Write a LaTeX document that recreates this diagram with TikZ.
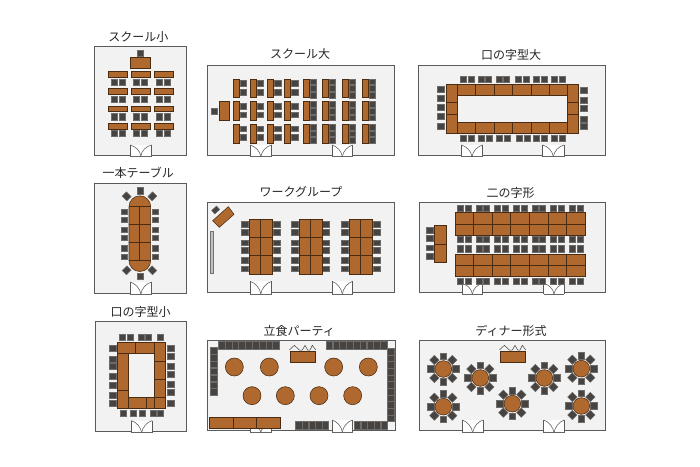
\documentclass[tikz,border=0pt]{standalone}
\usepackage{fontspec}
\setmainfont{Noto Sans CJK JP}
\definecolor{roomfill}{HTML}{F2F2F2}
\definecolor{roomline}{HTML}{5A5A5A}
\definecolor{wood}{HTML}{AF692F}
\definecolor{woodline}{HTML}{4A2C12}
\definecolor{seat}{HTML}{474341}
\definecolor{seatline}{HTML}{6E6C6A}
\tikzset{
  zoomat/.style 2 args={shift={(#1,#2)},x=0.33333pt,y=-0.33333pt},
  room/.style={fill=roomfill,draw=roomline,line width=0.7pt},
  tabletop/.style={fill=wood,draw=woodline,line width=0.55pt},
  seatbox/.style={fill=seat,draw=seatline,line width=0.5pt},
  splitline/.style={draw=woodline,line width=0.55pt},
  doorbox/.style={draw=roomline,line width=0.55pt},
  doorsill/.style={draw=black!60,line width=1pt},
  title/.style={font=\fontsize{12}{12}\selectfont,text=black!85,inner sep=0pt},
  board/.style={fill=black!25,draw=black!55,line width=0.4pt},
  crown/.style={draw=black!75,line width=0.5pt}
}
\newcommand{\doorat}[4]{% x1 x2 ytop ybot
  \pgfmathsetmacro{\dm}{(#1+#2)/2}
  \fill[white] (#1,#3) rectangle (#2,#4);
  \draw[doorbox] (#1,#3) -- (#1,#4);
  \draw[doorbox] (#2,#3) -- (#2,#4);
  \draw[doorsill] (#1,#4) -- (#2,#4);
  \draw[doorbox] (#1,#3) .. controls (\dm-16,#3+4) and (\dm-2,#4-16) .. (\dm,#4);
  \draw[doorbox] (#2,#3) .. controls (\dm+16,#3+4) and (\dm+2,#4-16) .. (\dm,#4);
}
\newcommand{\crownrow}{%
  \draw[crown] (268,90) -- (283,76) -- (298,90) -- (307,90) -- (315,76) -- (323,90) -- (330,90) -- (337,76) -- (347,90);
  \draw[tabletop] (271,95) rectangle (345,127);
}
\newcommand{\roundset}[2]{%
  \foreach \a in {0,45,...,315}
    {\draw[seatbox,shift={(#1,#2)},rotate=\a] (28,-10) rectangle (48,10);}
  \draw[tabletop] (#1,#2) circle (25);
}
\begin{document}
\begin{tikzpicture}[x=1pt,y=-1pt]
\useasboundingbox (0,0) rectangle (700,466);
\fill[white] (0,0) rectangle (700,466);

% ---- panel 1
\begin{scope}[zoomat={90}{20}]
\node[title] (t1) at (145,50) {スクール小};
\draw[room] (14,78) rectangle (288,405);
\doorat{120}{185}{375}{408}
\draw[seatbox] (142,90) rectangle (160,110);
\draw[tabletop] (122,113) rectangle (180,146);
\foreach \r/\c in {155/177,206/228,258/280,310/330}{
  \foreach \x in {55,123,192} \draw[tabletop] (\x,\r) rectangle ++(57,17);
  \foreach \x in {64,87,131,155,200,224} \draw[seatbox] (\x,\c) rectangle ++(18,20);
}
\end{scope}

% ---- panel 2
\begin{scope}[zoomat={200}{40}]
\node[title] (t2) at (300,42) {スクール大};
\draw[room] (22,77) rectangle (583,346);
\doorat{150}{215}{315}{350}
\doorat{396}{458}{315}{350}
\draw[seatbox] (33,205) rectangle (53,222);
\draw[tabletop] (58,183) rectangle (88,242);
\foreach \x in {100,151,203,254}{
  \foreach \y in {117,185,253} \draw[tabletop] (\x,\y) rectangle ++(17,56);
  \foreach \y in {122,148,190,216,258,284} \draw[seatbox] (\x+20,\y) rectangle ++(20,17);
}
\foreach \x in {310,367,427,487}{
  \foreach \y in {117,185,253}{
    \draw[tabletop] (\x,\y) rectangle ++(17,56);
    \foreach \d in {0,20,40} \draw[seatbox] (\x+20,\y+\d) rectangle ++(20,17);
  }
}
\end{scope}

% ---- panel 3
\begin{scope}[zoomat={410}{40}]
\node[title] (t3) at (303,44) {口の字型大};
\draw[room] (26,77) rectangle (586,347);
\doorat{154}{218}{315}{350}
\doorat{398}{462}{315}{350}
\foreach \x in {150,174,204,227,258,281,317,341,370,394,423,447} \draw[seatbox] (\x,108) rectangle ++(18,20);
\foreach \x in {152,176,205,229,259,283,318,342,371,395,424,448} \draw[seatbox] (\x,285) rectangle ++(18,20);
\foreach \y in {140,165,194,221,250} \draw[seatbox] (83,\y) rectangle ++(21,18);
\foreach \y in {141,171,197,228,251} \draw[seatbox] (511,\y) rectangle ++(22,18);
\draw[tabletop] (108,132) rectangle (143,279);
\draw[tabletop] (472,132) rectangle (505,279);
\draw[tabletop] (143,132) rectangle (472,166);
\draw[tabletop] (143,246) rectangle (472,279);
\foreach \x in {196,252,307,363,418} {
  \draw[splitline] (\x,132) -- (\x,166);
  \draw[splitline] (\x,246) -- (\x,279);
}
\foreach \y in {188,224} {
  \draw[splitline] (108,\y) -- (143,\y);
  \draw[splitline] (472,\y) -- (505,\y);
}
\end{scope}

% ---- panel 4
\begin{scope}[zoomat={90}{160}]
\node[title] (t4) at (145,40) {一本テーブル};
\draw[room] (14,69) rectangle (288,400);
\doorat{120}{185}{366}{402}
\foreach \y in {148,172,202,226,257,282} {
  \draw[seatbox] (94,\y) rectangle ++(19,16);
  \draw[seatbox] (186,\y) rectangle ++(19,16);
}
\foreach \cx/\cy/\r in {150/92/0,150/349/0,110/109/45,187/109/-45,110/331/-45,187/331/45}
  {\draw[seatbox,shift={(\cx,\cy)},rotate=\r] (-9,-10) rectangle (9,10);}
\draw[tabletop] (117,140) arc[start angle=180,end angle=360,radius=32.5] -- (182,302) arc[start angle=0,end angle=180,radius=32.5] -- cycle;
\draw[splitline] (149,140) -- (149,302);
\foreach \y in {140,194,248,302} \draw[splitline] (117,\y) -- (182,\y);
\end{scope}

% ---- panel 5
\begin{scope}[zoomat={200}{180}]
\node[title] (t5) at (303,37) {ワークグループ};
\draw[room] (22,67) rectangle (583,337);
\doorat{150}{215}{304}{342}
\doorat{396}{458}{304}{342}
\draw[seatbox,shift={(47,90)},rotate=42] (-10,-7) rectangle (10,7);
\draw[tabletop] (38,122) -- (85,80) -- (102,103) -- (58,142) -- cycle;
\draw[board] (30,153) rectangle (40,280);
\foreach \bx/\lx/\rx in {148/123/219,298/273/368,448/423/520}{
  \foreach \y in {124,148,180,202,233,258} {
    \draw[seatbox] (\lx,\y) rectangle ++(21,17);
    \draw[seatbox] (\rx,\y) rectangle ++(21,17);
  }
  \draw[tabletop] (\bx,117) rectangle ++(68,167);
  \draw[splitline] (\bx+34,117) -- (\bx+34,284);
  \foreach \y in {172,227} \draw[splitline] (\bx,\y) -- (\bx+68,\y);
}
\end{scope}

% ---- panel 6
\begin{scope}[zoomat={410}{180}]
\node[title] (t6) at (302,38) {二の字形};
\draw[room] (27,67) rectangle (587,338);
\doorat{156}{218}{310}{342}
\doorat{401}{463}{310}{342}
\foreach \y in {143,167,195,220} \draw[seatbox] (50,\y) rectangle ++(21,17);
\draw[tabletop] (73,136) rectangle (108,248);
\draw[splitline] (73,192) -- (108,192);
\foreach \y in {75,168,197,294}
  \foreach \x in {142,165,198,221,254,277,310,333,366,389,422,445,478,501}
    \draw[seatbox] (\x,\y) rectangle ++(18,20);
\foreach \a/\b/\c in {98/133/167,222/256/290}{
  \draw[tabletop] (136,\a) rectangle (525,\c);
  \draw[splitline] (136,\b) -- (525,\b);
  \foreach \x in {191,247,302,358,414,470} \draw[splitline] (\x,\a) -- (\x,\c);
}
\end{scope}

% ---- panel 7
\begin{scope}[zoomat={90}{300}]
\node[title] (t7) at (152,35) {口の字型小};
\draw[room] (17,65) rectangle (290,395);
\doorat{124}{186}{362}{398}
\foreach \x in {88,113,144,167,201} \draw[seatbox] (\x,103) rectangle ++(18,19);
\foreach \x in {91,122,148,180,201} \draw[seatbox] (\x,331) rectangle ++(18,19);
\foreach \y in {135,168,191,221,247,276,300} \draw[seatbox] (57,\y) rectangle ++(21,18);
\foreach \y in {135,159,190,213,244,267,300} \draw[seatbox] (232,\y) rectangle ++(20,18);
\draw[tabletop] (83,127) rectangle (193,160);
\draw[tabletop] (83,160) rectangle (115,325);
\draw[tabletop] (193,127) rectangle (225,325);
\draw[tabletop] (115,293) rectangle (193,325);
\draw[splitline] (137,127) -- (137,160);
\draw[splitline] (83,270) -- (115,270);
\foreach \y in {184,238,293} \draw[splitline] (193,\y) -- (225,\y);
\draw[splitline] (168,293) -- (168,325);
\end{scope}

% ---- panel 8
\begin{scope}[zoomat={200}{320}]
\node[title] (t8) at (298,32) {立食パーティ};
\draw[room] (22,62) rectangle (587,332);
\doorat{150}{215}{322}{336}
\doorat{396}{458}{300}{336}
\foreach \n in {0,...,8} {
  \draw[seatbox] (55+\n*20.4,65) rectangle ++(20,22);
  \draw[seatbox] (378+\n*20.4,65) rectangle ++(20,22);
}
\foreach \n in {0,...,6} {\draw[seatbox] (30,83+\n*20.5) rectangle ++(22,19);}
\foreach \n in {0,...,10} {\draw[seatbox] (561,85+\n*20) rectangle ++(22,20);}
\foreach \n in {0,...,4} {
  \draw[seatbox] (287+\n*20,305) rectangle ++(19,22);
  \draw[seatbox] (463+\n*20,305) rectangle ++(19,22);
}
\crownrow
\foreach \cx/\cy in {103/141,208/141,401/141,505/141,156/227,256/227,357/227,458/227}
  {\draw[tabletop] (\cx,\cy) circle (27);}
\draw[tabletop] (28,292) rectangle (242,325);
\foreach \x in {100,170} {\draw[splitline] (\x,292) -- (\x,325);}
\end{scope}

% ---- panel 9
\begin{scope}[zoomat={410}{320}]
\node[title] (t9) at (303,32) {ディナー形式};
\draw[room] (27,62) rectangle (587,332);
\doorat{157}{219}{300}{338}
\doorat{401}{463}{300}{338}
\crownrow
\foreach \cx/\cy in {100/147,211/174,307/251,403/174,514/146,100/260,514/258}
  {\roundset{\cx}{\cy}}
\end{scope}
\end{tikzpicture}
\end{document}
